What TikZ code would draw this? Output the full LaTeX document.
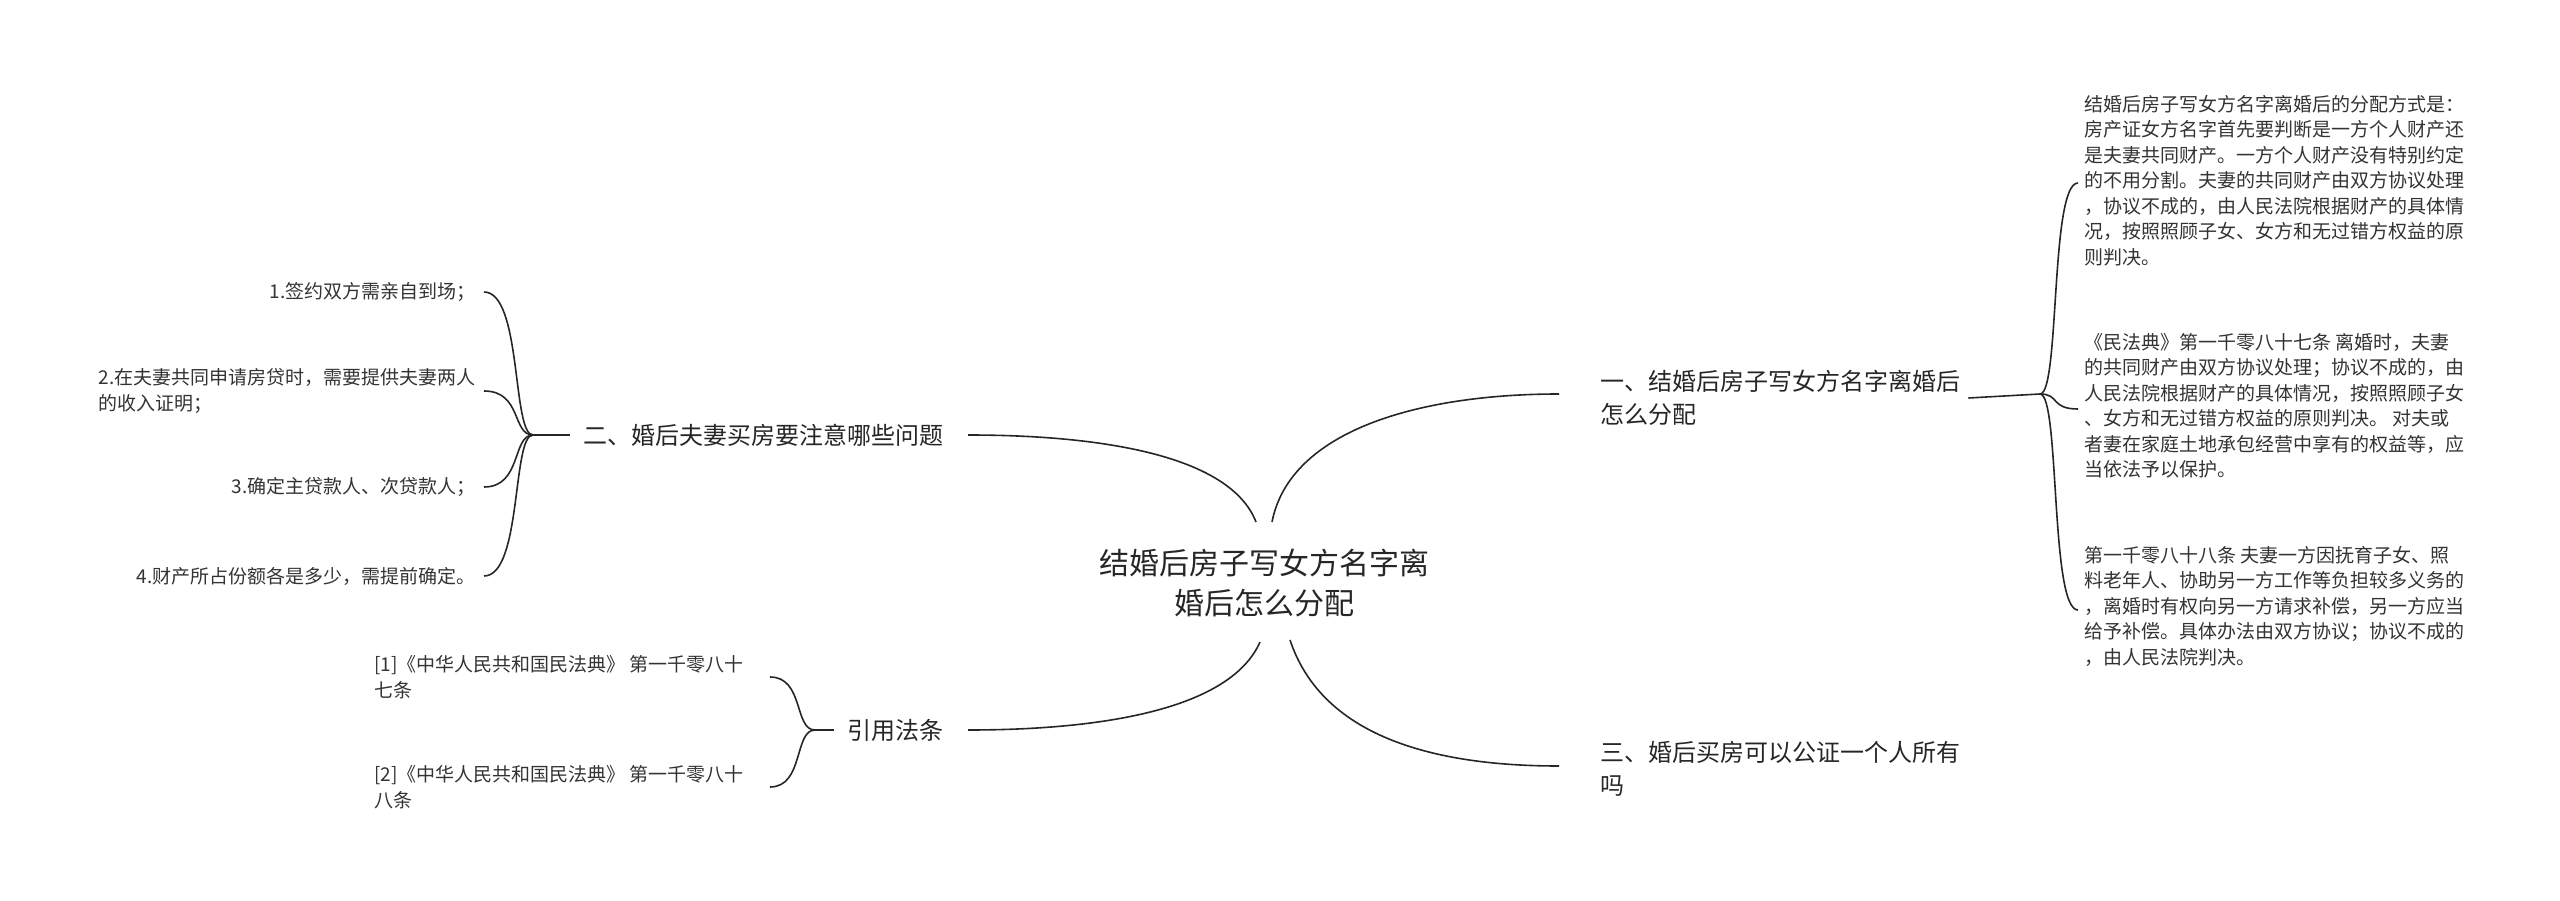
\documentclass[tikz,border=0pt]{standalone}
\usepackage{fontspec}
\setmainfont{Noto Sans CJK SC}
\begin{document}
\begin{tikzpicture}[x=1pt,y=-1pt,
  txt/.style={inner sep=0pt,text=black!80,font=\fontsize{19}{25.5}\selectfont},
  br/.style={inner sep=0pt,text=black!85,font=\fontsize{24}{33}\selectfont},
  ln/.style={draw=black!85,line width=1.6pt}]
\useasboundingbox (0,0) rectangle (2560,901);
\node[inner sep=0pt,align=center,text=black!85,font=\fontsize{30}{40}\selectfont] (c) at (1264,583) {结婚后房子写女方名字离\\婚后怎么分配};
\node[br,anchor=west,align=left] (b1) at (1600,398) {一、结婚后房子写女方名字离婚后\\怎么分配};
\node[br,anchor=west,align=left] (b3) at (1600,769) {三、婚后买房可以公证一个人所有\\吗};
\node[br,anchor=east] (b2) at (944,435) {二、婚后夫妻买房要注意哪些问题};
\node[br,anchor=east] (b4) at (944,730) {引用法条};
\coordinate (e1) at (1559,394);
\coordinate (e3) at (1559,766);
\coordinate (e2) at (968,435);
\coordinate (e4) at (968,730);
\draw[ln] (1272,522) .. controls (1290,430) and (1420,394) .. (e1);
\draw[ln] (1290,640) .. controls (1320,730) and (1420,766) .. (e3);
\draw[ln] (1256,522) .. controls (1230,455) and (1100,435) .. (e2);
\draw[ln] (1260,642) .. controls (1230,710) and (1100,730) .. (e4);
% right leaves
\node[txt,anchor=north west,align=left] (r1) at (2084,95) {结婚后房子写女方名字离婚后的分配方式是：\\房产证女方名字首先要判断是一方个人财产还\\是夫妻共同财产。一方个人财产没有特别约定\\的不用分割。夫妻的共同财产由双方协议处理\\，协议不成的，由人民法院根据财产的具体情\\况，按照照顾子女、女方和无过错方权益的原\\则判决。};
\node[txt,anchor=north west,align=left] (r2) at (2084,333) {《民法典》第一千零八十七条 离婚时，夫妻\\的共同财产由双方协议处理；协议不成的，由\\人民法院根据财产的具体情况，按照照顾子女\\、女方和无过错方权益的原则判决。 对夫或\\者妻在家庭土地承包经营中享有的权益等，应\\当依法予以保护。};
\node[txt,anchor=north west,align=left] (r3) at (2084,546) {第一千零八十八条 夫妻一方因抚育子女、照\\料老年人、协助另一方工作等负担较多义务的\\，离婚时有权向另一方请求补偿，另一方应当\\给予补偿。具体办法由双方协议；协议不成的\\，由人民法院判决。};
\coordinate (rr) at (2040,394);
\draw[ln] (b1.east) ++(8,0) -- (rr);
\foreach \n/\y in {r1/183,r2/409,r3/610}
  \draw[ln] (rr) .. controls (2060,394) and (2050,\y) .. (2078,\y);
% left leaves
\node[txt,anchor=east] (l1) at (476,292) {1.签约双方需亲自到场；};
\node[txt,anchor=east,align=left] (l2) at (476,391) {2.在夫妻共同申请房贷时，需要提供夫妻两人\\的收入证明；};
\node[txt,anchor=east] (l3) at (476,487) {3.确定主贷款人、次贷款人；};
\node[txt,anchor=east] (l4) at (476,576) {4.财产所占份额各是多少，需提前确定。};
\coordinate (lr) at (533,435);
\draw[ln] (b2.west) ++(-14,0) -- (lr);
\foreach \y in {292,391,487,576}
  \draw[ln] (lr) .. controls (512,435) and (522,\y) .. (484,\y);
% citations
\node[txt,anchor=west,align=left] (c1) at (374,677) {[1]《中华人民共和国民法典》 第一千零八十\\七条};
\node[txt,anchor=west,align=left] (c2) at (374,787) {[2]《中华人民共和国民法典》 第一千零八十\\八条};
\coordinate (cr) at (815,730);
\draw[ln] (b4.west) ++(-14,0) -- (cr);
\foreach \y in {677,787}
  \draw[ln] (cr) .. controls (794,730) and (804,\y) .. (770,\y);
\end{tikzpicture}
\end{document}
